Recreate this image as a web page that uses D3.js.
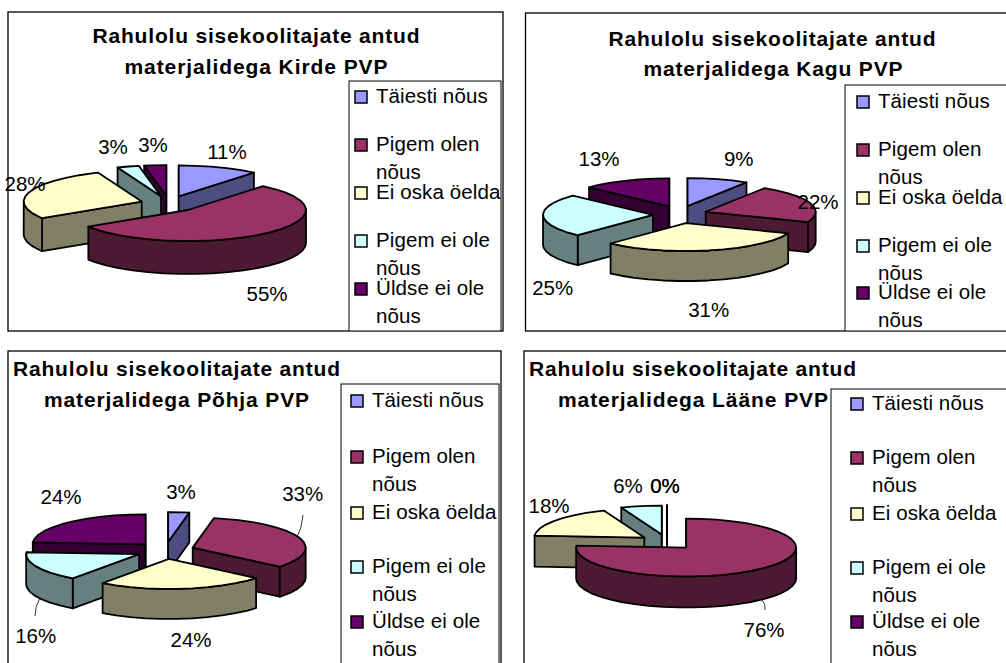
<!DOCTYPE html>
<html>
<head>
<meta charset="utf-8">
<script src="https://cdnjs.cloudflare.com/ajax/libs/d3/7.8.5/d3.min.js"></script>
<style>
html,body{margin:0;padding:0;background:#fff;overflow:hidden}
text{font-family:"Liberation Sans",Arial,sans-serif;fill:#000}
</style>
</head>
<body>
<svg id="chart" width="1006" height="663"></svg>
<script>
// ---- data ----
const categories = [["Täiesti nõus"],["Pigem olen","nõus"],["Ei oska öelda"],["Pigem ei ole","nõus"],["Üldse ei ole","nõus"]];
const kirdeValues  = [11,55,28,3,3];
const kaguValues   = [9,22,31,25,13];
const pohjaValues  = [3,33,24,16,24];
const laaneValues  = [0,76,18,6,0];
const titleFirstLine = "Rahulolu sisekoolitajate antud";
const titleSecondLines = ["materjalidega Kirde PVP","materjalidega Kagu PVP","materjalidega Põhja PVP","materjalidega Lääne PVP"];
const topColors  = ["#9999FF","#993366","#FFFFCC","#CCFFFF","#660066"];
const sideColors = ["#4D4D80","#4D1A33","#808066","#668080","#330033"];

// ---- layout (pixels, not data) ----
const layouts = [
 {values:kirdeValues, frame:[8,12,495,319], legend:[349,81,152,250], keyX:355, textX:376, keyY:[97,145,193,241,289],
  t1:[256,43], t2:[256,74], t2w:263,
  cx:169, cy:204, rx:118, ry:31, depth:33, ex:28.7, ey:8,
  labels:[[227,152],[267,294],[25,184],[113,147],[153,145]], leaders:[]},
 {values:kaguValues, frame:[525.5,13,490,318], legend:[845,85,170,246], keyX:857, textX:878, keyY:[102,150,198,246,293],
  t1:[772,45.5], t2:[773,75.5], t2w:259,
  cx:680, cy:214.5, rx:110, ry:28, depth:30, ex:27, ey:8.8,
  labels:[[738.7,159],[818,202],[708.7,310],[552.7,288],[599,159]], leaders:[]},
 {values:pohjaValues, frame:[8,351,493,330], legend:[341,384,158,300], keyX:351, textX:372, keyY:[401,457,513,567,622],
  t1:[176.5,376], t2:[176.5,406.5], t2w:265,
  cx:165.4, cy:550.5, rx:113, ry:30, depth:30, ex:29, ey:8.5,
  labels:[[181,492],[302.7,494],[191,640],[35.7,635.7],[61,497]],
  leaders:[[303,515,302,528,297,537],[35,616,35,606,40,598]]},
 {values:laaneValues, frame:[524,351,490,330], legend:[831,389,190,300], keyX:851, textX:872, keyY:[404,458,514,568,622],
  t1:[692.5,376], t2:[693,406.5], t2w:270,
  cx:667, cy:542, rx:110, ry:29, depth:31, ex:28, ey:7.6,
  labels:[[665,485.7],[764,630],[549,505.7],[628,485.7],[665,485.7]],
  leaders:[[765,610,766,604,762,600]]}
];

const svg = d3.select("#chart");
const pie = d3.pie().sort(null).value(d => d).startAngle(0).endAngle(2*Math.PI);
const STEP = 8 * Math.PI / 180;

layouts.forEach((p, pi) => {
  const g = svg.append("g");
  // frame
  g.append("rect").attr("x",p.frame[0]).attr("y",p.frame[1]).attr("width",p.frame[2]).attr("height",p.frame[3])
    .attr("fill","#fff").attr("stroke","#000").attr("stroke-width",1.3);

  // titles
  g.append("text").text(titleFirstLine).attr("x",p.t1[0]).attr("y",p.t1[1]).attr("text-anchor","middle")
    .attr("font-size",21).attr("font-weight","bold").attr("textLength",327).attr("lengthAdjust","spacing");
  g.append("text").text(titleSecondLines[pi]).attr("x",p.t2[0]).attr("y",p.t2[1]).attr("text-anchor","middle")
    .attr("font-size",21).attr("font-weight","bold").attr("textLength",p.t2w).attr("lengthAdjust","spacing");

  // legend
  const clipId = "clip"+pi;
  svg.append("clipPath").attr("id",clipId).append("rect")
    .attr("x",p.frame[0]).attr("y",p.frame[1]).attr("width",p.frame[2]).attr("height",p.frame[3]);
  const lg = g.append("g").attr("clip-path",`url(#${clipId})`);
  lg.append("rect").attr("x",p.legend[0]).attr("y",p.legend[1]).attr("width",p.legend[2]).attr("height",p.legend[3])
    .attr("fill","#fff").attr("stroke","#000").attr("stroke-width",1);
  categories.forEach((lines,i) => {
    lg.append("rect").attr("x",p.keyX).attr("y",p.keyY[i]-6).attr("width",12).attr("height",12)
      .attr("fill",topColors[i]).attr("stroke","#000").attr("stroke-width",1.5);
    lines.forEach((t,j) => {
      lg.append("text").text(t).attr("x",p.textX).attr("y",p.keyY[i]+6+j*27.8)
        .attr("font-size",20.5).attr("letter-spacing",0.1);
    });
  });

  // scales: unit pie coordinates to pixels
  const X = d3.scaleLinear().domain([-1,1]).range([-p.rx,p.rx]);
  const Y = d3.scaleLinear().domain([-1,1]).range([-p.ry,p.ry]);
  const line = d3.line().x(d=>d[0]).y(d=>d[1]);

  const arcs = pie(p.values).map((d,i) => {
    const mid = (d.startAngle+d.endAngle)/2;
    return {...d, i, mid,
      ox:p.cx+p.ex*Math.sin(mid),
      oy:p.cy-p.ey*Math.cos(mid)};
  });

  function rim(a,o,dz){ return [o.ox+X(Math.sin(a)), o.oy+Y(-Math.cos(a))+dz]; }
  function arcPts(a,b,o,dz){
    const pts=[]; 
    let t=Math.ceil(a/STEP+1e-6)*STEP;
    pts.push(rim(a,o,dz));
    for(;t<b-1e-6;t+=STEP) pts.push(rim(t,o,dz));
    pts.push(rim(b,o,dz));
    return pts;
  }

  const order = arcs.slice().sort((u,v)=>Math.cos(v.mid)-Math.cos(u.mid));
  const pieG = g.append("g").attr("stroke","#000").attr("stroke-width",1.8).attr("stroke-linejoin","round");
  order.forEach(o => {
    const a=o.startAngle,b=o.endAngle, side=sideColors[o.i], top=topColors[o.i];
    const ap=[o.ox,o.oy], apD=[o.ox,o.oy+p.depth];
    const wall=(pts)=>pieG.append("path").attr("d",line(pts)+"Z").attr("fill",side);
    // radial cut faces turned to the viewer
    if(Math.sin(a)<=1e-9){ const r=rim(a,o,0), rd=rim(a,o,p.depth); wall([ap,r,rd,apD]); }
    if(Math.sin(b)>=-1e-9 && b>a){ const r=rim(b,o,0), rd=rim(b,o,p.depth); wall([ap,r,rd,apD]); }
    // outer wall
    const fa=Math.max(a,Math.PI/2), fb=Math.min(b,3*Math.PI/2);
    if(fb>fa){
      wall(arcPts(fa,fb,o,0).concat(arcPts(fa,fb,o,p.depth).reverse()));
    }
    // top
    pieG.append("path").attr("d",line([ap].concat(arcPts(a,b,o,0)))+"Z").attr("fill",top);
  });

  // leaders
  p.leaders.forEach(l=>{
    const path=d3.path(); path.moveTo(l[0],l[1]); path.quadraticCurveTo(l[2],l[3],l[4],l[5]);
    g.append("path").attr("d",path.toString()).attr("fill","none").attr("stroke","#000").attr("stroke-width",0.8);
  });

  // value labels
  arcs.forEach((o,i)=>{
    g.append("text").text(o.data+"%").attr("x",p.labels[i][0]).attr("y",p.labels[i][1]+7)
      .attr("text-anchor","middle").attr("font-size",20.5);
  });
});
</script>
</body>
</html>
